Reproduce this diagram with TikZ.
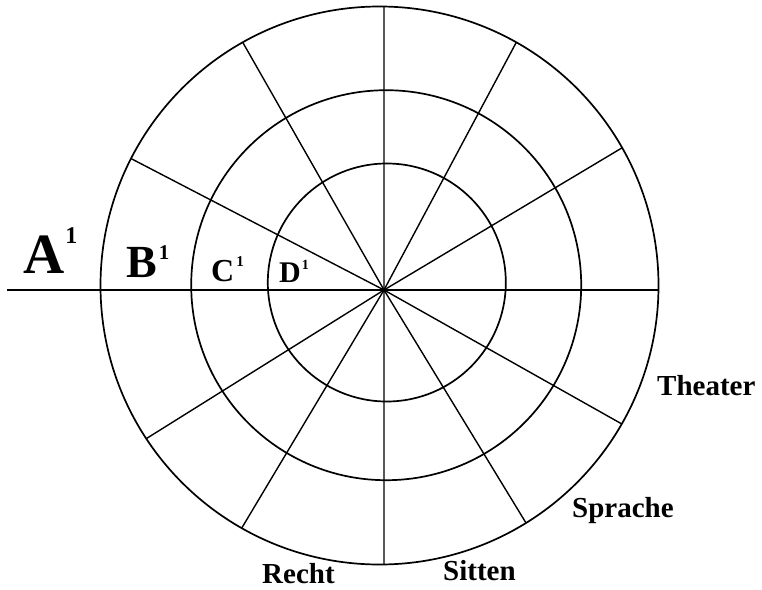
\documentclass[tikz,border=0pt]{standalone}
\usepackage{fontspec}
\setmainfont{Liberation Serif}
\usetikzlibrary{intersections,calc}
\newcommand\mylab[5]{{\fontsize{#1}{#1}\selectfont\bfseries #4\kern#5\raisebox{#2}{\fontsize{#3}{#3}\selectfont 1}}}
\begin{document}
\begin{tikzpicture}[x=1pt,y=-1pt,
  ring/.style={draw,line width=1.7pt},
  spoke/.style={draw,line width=1.4pt},
  axisline/.style={draw,line width=1.9pt},
  lbl/.style={inner sep=0pt,anchor=base west},
  word/.style={inner sep=0pt,anchor=base west,font=\bfseries\fontsize{29}{29}\selectfont}]
\useasboundingbox (0,0) rectangle (762,589);
\fill[white] (0,0) rectangle (762,589);
\coordinate (c) at (384,290);
% rings
\path[name path=outer] (379.5,285.5) circle[radius=279];
\draw[ring] (379.5,285.5) circle[radius=279];
\draw[ring] (386.2,285.2) circle[radius=195];
\draw[ring] (386.8,282.5) circle[radius=119];
% spokes
\foreach \px/\py [count=\i] in {243.3/43.3, 133.8/160, 515.8/43.3, 620.4/148.8,
    618/421.8, 523/518, 243.3/525.4, 146/438.8, 384/0, 384/580}{
  \path[name path=ray\i] (c) -- ($(c)!2!(\px,\py)$);
  \draw[spoke,name intersections={of=outer and ray\i,by=e\i}] (c) -- (e\i);
}
\path[name path=rayR] (c) -- (1000,290);
\coordinate (axisend) at (7,290);
\draw[axisline,name intersections={of=outer and rayR,by=eR}] (axisend) -- (eR);
\fill (c) circle[radius=2.2];
% labels
\node[lbl] (A) at (23,273) {\mylab{57}{30pt}{24}{A}{1pt}};
\node[lbl] (B) at (126,277) {\mylab{46}{18pt}{21}{B}{2pt}};
\node[lbl] (C) at (211,281) {\mylab{32}{15pt}{15}{C}{2pt}};
\node[lbl] (D) at (279,282) {\mylab{30}{13pt}{14}{D}{1pt}};
\node[word] (theater) at (657,395) {Theater};
\node[word] (sprache) at (572,517) {Sprache};
\node[word] (recht) at (262,583) {Recht};
\node[word] (sitten) at (443,580) {Sitten};
\end{tikzpicture}
\end{document}
